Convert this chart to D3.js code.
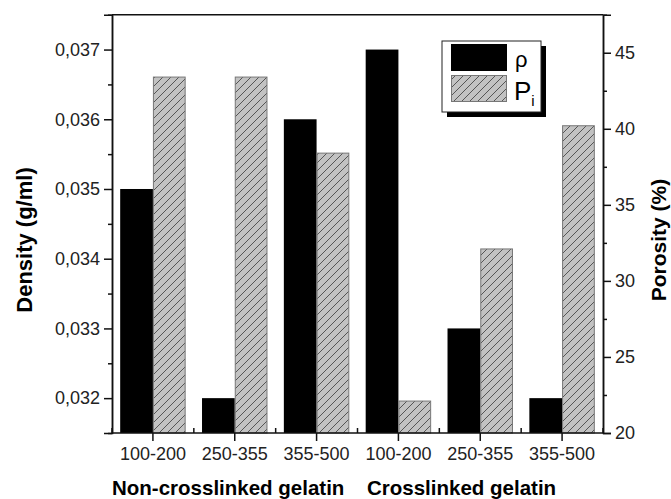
<!DOCTYPE html>
<html>
<head>
<meta charset="utf-8">
<script src="https://cdn.jsdelivr.net/npm/d3@7"></script>
<style>
  body { margin: 0; background: #fff; }
  svg { display: block; font-family: "Liberation Sans", Arial, sans-serif; }
  .axis path, .axis line { stroke: #111; stroke-width: 1.5; }
  .axis text { font-size: 18px; fill: #222; }
</style>
</head>
<body>
<svg id="chart" width="671" height="499"></svg>
<script>
var categories = ["100-200", "250-355", "355-500", "100-200", "250-355", "355-500"]
var density = [0.035, 0.032, 0.036, 0.037, 0.033, 0.032]
var porosity = [43.4, 43.4, 38.4, 22.1, 32.1, 40.2]
var groups = ["Non-crosslinked gelatin", "Crosslinked gelatin"]
var densityTicks = [0.032, 0.033, 0.034, 0.035, 0.036, 0.037]
var densityMinor = [0.0315, 0.0325, 0.0335, 0.0345, 0.0355, 0.0365, 0.0375]
var porosityTicks = [20, 25, 30, 35, 40, 45]
var porosityMinor = [22.5, 27.5, 32.5, 37.5, 42.5, 47.5]

var svg = d3.select("#chart")
var pLeft = 112, pRight = 603, pTop = 14.7, pBottom = 433

var x = d3.scaleBand()
    .domain(d3.range(categories.length))
    .range([pLeft, pRight])
    .paddingInner(0.2)
    .paddingOuter(0.1)
var sub = d3.scaleBand().domain([0, 1]).range([0, x.bandwidth()])
var yL = d3.scaleLinear().domain([0.0315, 0.0375]).range([pBottom, pTop])
var yR = d3.scaleLinear().domain([20, 47.5]).range([pBottom, pTop])

var comma = d3.formatLocale({decimal: ",", thousands: ".", grouping: [3], currency: ["", ""]}).format(".3f")

// hatch
var pat = svg.append("defs").append("pattern")
    .attr("id", "hatch")
    .attr("patternUnits", "userSpaceOnUse")
    .attr("width", 8).attr("height", 8)
pat.append("rect").attr("width", 8).attr("height", 8).attr("fill", "#c2c2c2")
pat.append("path")
    .attr("d", "M-2,2 L2,-2 M0,8 L8,0 M6,10 L10,6")
    .attr("stroke", "#555").attr("stroke-width", 1)

// bars
svg.append("g").selectAll("rect")
    .data(density)
    .enter().append("rect")
    .attr("x", function(d, i) { return x(i) + sub(0) })
    .attr("y", function(d) { return yL(d) })
    .attr("width", sub.bandwidth())
    .attr("height", function(d) { return pBottom - yL(d) })
    .attr("fill", "#000")

svg.append("g").selectAll("rect")
    .data(porosity)
    .enter().append("rect")
    .attr("x", function(d, i) { return x(i) + sub(1) + 0.5 })
    .attr("y", function(d) { return yR(d) })
    .attr("width", sub.bandwidth() - 1)
    .attr("height", function(d) { return pBottom - yR(d) })
    .attr("fill", "url(#hatch)")
    .attr("stroke", "#777")
    .attr("stroke-width", 1)

// axes
svg.append("g").attr("class", "axis")
    .attr("transform", "translate(" + pLeft + ",0)")
    .call(d3.axisLeft(yL).tickValues(densityTicks).tickFormat(comma).tickSize(8).tickPadding(4))
svg.append("g").attr("class", "axis")
    .attr("transform", "translate(" + pLeft + ",0)")
    .call(d3.axisLeft(yL).tickValues(densityMinor).tickFormat("").tickSize(4).tickSizeOuter(0))

svg.append("g").attr("class", "axis")
    .attr("transform", "translate(" + pRight + ",0)")
    .call(d3.axisRight(yR).tickValues(porosityTicks).tickSize(8).tickPadding(4))
svg.append("g").attr("class", "axis")
    .attr("transform", "translate(" + pRight + ",0)")
    .call(d3.axisRight(yR).tickValues(porosityMinor).tickFormat("").tickSize(4).tickSizeOuter(0))

var xa = svg.append("g").attr("class", "axis")
    .attr("transform", "translate(0," + pBottom + ")")
    .call(d3.axisBottom(x).tickFormat(function(i) { return categories[i] }).tickSize(8).tickSizeOuter(0).tickPadding(6))
xa.select(".domain").attr("d", "M" + pLeft + ",0H" + pRight)

// minor ticks between categories, pointing up
svg.append("g").selectAll("line")
    .data(d3.range(categories.length + 1))
    .enter().append("line")
    .attr("x1", function(i) { return i < categories.length ? x(i) - x.step() * 0.1 : pRight })
    .attr("x2", function(i) { return i < categories.length ? x(i) - x.step() * 0.1 : pRight })
    .attr("y1", pBottom).attr("y2", pBottom - 5)
    .attr("stroke", "#111").attr("stroke-width", 1.5)

// top frame
svg.append("line")
    .attr("x1", pLeft).attr("x2", pRight)
    .attr("y1", pTop).attr("y2", pTop)
    .attr("stroke", "#111").attr("stroke-width", 1.5)

// axis titles
svg.append("text")
    .attr("transform", "translate(32,240) rotate(-90)")
    .attr("text-anchor", "middle")
    .style("font-size", "22px").style("font-weight", "bold")
    .text("Density (g/ml)")
svg.append("text")
    .attr("transform", "translate(666,240) rotate(-90)")
    .attr("text-anchor", "middle")
    .style("font-size", "21px").style("font-weight", "bold")
    .text("Porosity (%)")

svg.append("g").selectAll("text")
    .data(groups)
    .enter().append("text")
    .attr("x", function(d, i) { return i == 0 ? 112 : 367 })
    .attr("y", 495)
    .style("font-size", "20.5px").style("font-weight", "bold")
    .text(function(d) { return d })

// legend
var lg = svg.append("g").attr("transform", "translate(442,41)")
lg.append("rect").attr("x", 5).attr("y", 5).attr("width", 99).attr("height", 71).attr("fill", "#000")
lg.append("rect").attr("width", 99).attr("height", 71).attr("fill", "#fff").attr("stroke", "#222").attr("stroke-width", 1)
lg.append("rect").attr("x", 9).attr("y", 3).attr("width", 56).attr("height", 27).attr("fill", "#000")
lg.append("rect").attr("x", 9.5).attr("y", 34.5).attr("width", 55).attr("height", 26)
    .attr("fill", "url(#hatch)").attr("stroke", "#777")
lg.append("text").attr("x", 73).attr("y", 26).style("font-size", "22px").text("ρ")
var pt = lg.append("text").attr("x", 72).attr("y", 59).style("font-size", "26px")
pt.append("tspan").text("P")
pt.append("tspan").attr("dy", 6).style("font-size", "15px").text("i")
</script>
</body>
</html>
